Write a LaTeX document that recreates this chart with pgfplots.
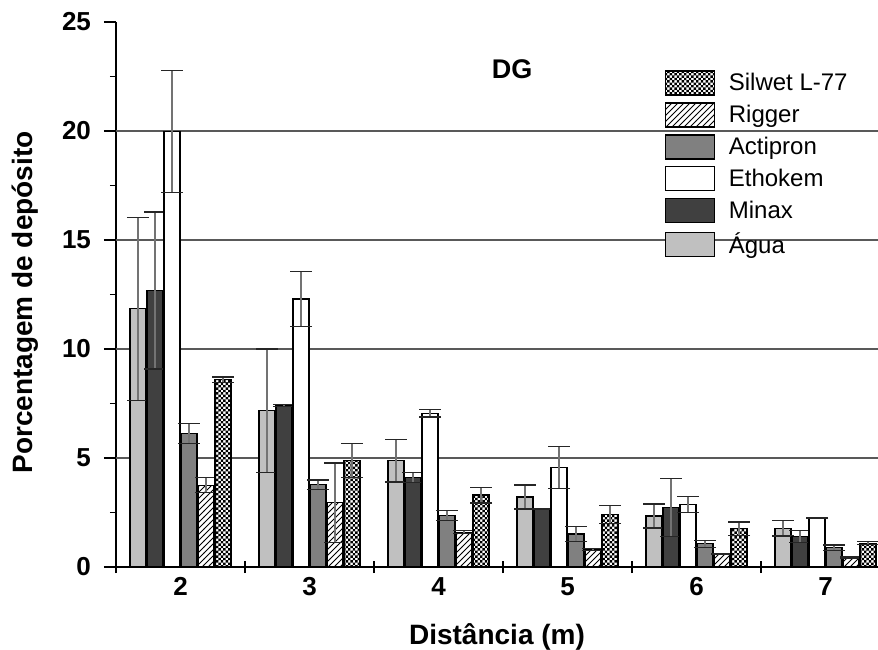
\documentclass[border=0pt]{standalone}
\usepackage{pgfplots}
\pgfplotsset{compat=1.18}
\usepackage{pgfplotstable}
\usepackage{fontspec}
\setmainfont{Liberation Sans}
\usetikzlibrary{patterns}
\pgfdeclarepatternformonly{finecheck}{\pgfqpoint{-0.1pt}{-0.1pt}}{\pgfqpoint{2.5pt}{2.5pt}}{\pgfqpoint{2.4pt}{2.4pt}}{%
  \pgfpathrectangle{\pgfqpoint{0pt}{0pt}}{\pgfqpoint{1.2pt}{1.2pt}}%
  \pgfpathrectangle{\pgfqpoint{1.2pt}{1.2pt}}{\pgfqpoint{1.2pt}{1.2pt}}%
  \pgfusepath{fill}}
\definecolor{agua}{HTML}{C0C0C0}
\definecolor{minax}{HTML}{404040}
\definecolor{actipron}{HTML}{808080}

\pgfplotstableread{
x y e
2 11.85 4.2
3 7.17 2.83
4 4.87 0.97
5 3.21 0.55
6 2.34 0.55
7 1.78 0.36
}\agua
\pgfplotstableread{
x y e
2 12.68 3.6
3 7.40 0.05
4 4.10 0.22
5 2.67 0.03
6 2.72 1.33
7 1.40 0.27
}\minax
\pgfplotstableread{
x y e
2 19.97 2.8
3 12.29 1.27
4 7.05 0.17
5 4.56 0.95
6 2.87 0.38
7 2.24 0.02
}\ethokem
\pgfplotstableread{
x y e
2 6.12 0.45
3 3.77 0.22
4 2.36 0.24
5 1.51 0.33
6 1.06 0.15
7 0.88 0.13
}\actipron
\pgfplotstableread{
x y e
2 3.75 0.35
3 2.95 1.82
4 1.60 0.08
5 0.80 0.05
6 0.60 0.03
7 0.45 0.04
}\rigger
\pgfplotstableread{
x y e
2 8.60 0.12
3 4.88 0.78
4 3.30 0.36
5 2.42 0.41
6 1.75 0.31
7 1.09 0.07
}\silwet

\begin{document}
\begin{tikzpicture}
\useasboundingbox (-58pt,-41pt) rectangle (381pt,283.5pt);
\begin{axis}[
  scale only axis,
  width=381pt, height=272.5pt,
  xmin=1.5, xmax=7.407,
  ymin=0, ymax=25,
  axis lines=left,
  axis line style={-, line width=0.7pt},
  ybar,
  bar width=8pt,
  xtick={1.5,2.5,3.5,4.5,5.5,6.5},
  xticklabels={},
  extra x ticks={2,3,4,5,6,7},
  extra x tick labels={2,3,4,5,6,7},
  extra x tick style={major tick length=0pt},
  xtick align=center,
  x tick style={line width=0.6pt, black},
  ytick={0,5,10,15,20,25},
  minor ytick={2.5,7.5,12.5,17.5,22.5},
  ytick align=outside,
  y tick style={line width=0.6pt, black},
  major tick length=6pt,
  minor tick length=3pt,
  extra y ticks={5,10,15,20},
  extra y tick labels={},
  extra y tick style={grid=major, major tick length=0pt},
  grid style={black!65, line width=0.6pt},
  /pgf/number format/assume math mode=true,
  every tick label/.append style={font=\fontsize{13}{15}\selectfont\bfseries},
  xticklabel style={font=\fontsize{13}{15}\selectfont\bfseries, text height=9.5pt, text depth=0pt, yshift=-1pt},
  yticklabel style={font=\fontsize{13}{15}\selectfont\bfseries, xshift=-3pt},
  xlabel={Distância (m)},
  ylabel={Porcentagem de depósito},
  label style={font=\fontsize{14}{17}\selectfont\bfseries},
  xlabel style={yshift=-1.5pt},
  ylabel style={yshift=-1pt, xshift=-4pt},
  error bars/y dir=both,
  error bars/y explicit,
  error bars/error bar style={black!55, line width=0.6pt},
  error bars/error mark options={rotate=90, black!85, mark size=5.5pt, line width=0.6pt},
  legend style={at={(rel axis cs:0.7195,0.915)}, anchor=north west, draw=none, fill=none,
    font=\fontsize{12}{14}\selectfont, row sep=1.8pt, inner sep=0pt},
  legend cell align=left,
  reverse legend,
  legend image code/.code={\draw[#1, line width=0.6pt] (0pt,-6pt) rectangle (24.5pt,6pt); \path (29.5pt,0pt);},
]
\addplot[fill=agua, draw=black, line width=0.6pt, bar shift=-21.25pt] table[x=x,y=y,y error=e] {\agua};
\addlegendentry{Água}
\addplot[fill=minax, draw=black, line width=0.6pt, bar shift=-12.75pt] table[x=x,y=y,y error=e] {\minax};
\addlegendentry{Minax}
\addplot[fill=white, draw=black, line width=0.6pt, bar shift=-4.25pt] table[x=x,y=y,y error=e] {\ethokem};
\addlegendentry{Ethokem}
\addplot[fill=actipron, draw=black, line width=0.6pt, bar shift=4.25pt] table[x=x,y=y,y error=e] {\actipron};
\addlegendentry{Actipron}
\addplot[fill=white, postaction={pattern=north east lines}, draw=black, line width=0.6pt, bar shift=12.75pt] table[x=x,y=y,y error=e] {\rigger};
\addlegendentry{Rigger}
\addplot[fill=white, postaction={pattern=finecheck}, draw=black, line width=0.6pt, bar shift=21.25pt] table[x=x,y=y,y error=e] {\silwet};
\addlegendentry{Silwet L-77}
\node[font=\fontsize{13.5}{16}\selectfont\bfseries] at (axis cs:4.57,22.85) {DG};
\end{axis}
\end{tikzpicture}
\end{document}
